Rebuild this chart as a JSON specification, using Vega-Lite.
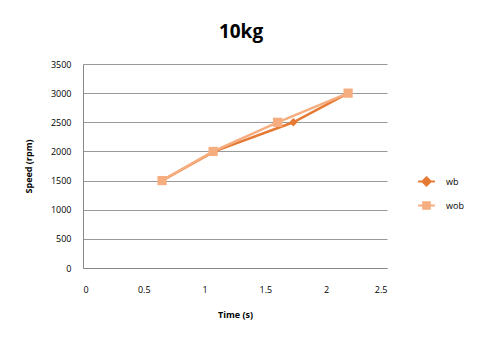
{
  "$schema": "https://vega.github.io/schema/vega-lite/v6.json",
  "autosize": "none",
  "width": 304,
  "height": 204,
  "padding": {"left": 83, "top": 64, "right": 92, "bottom": 69},
  "background": "white",
  "title": {"text": "10kg", "font": "Open Sans", "fontSize": 19, "fontWeight": "bold", "color": "#000000", "offset": 18, "anchor": "middle", "dx": 6},
  "data": {"values": [
    {"series": "wb", "time": 0.65, "speed": 1500},
    {"series": "wb", "time": 1.08, "speed": 2000},
    {"series": "wb", "time": 1.73, "speed": 2500},
    {"series": "wb", "time": 2.18, "speed": 3000},
    {"series": "wob", "time": 0.65, "speed": 1500},
    {"series": "wob", "time": 1.07, "speed": 2000},
    {"series": "wob", "time": 1.6, "speed": 2500},
    {"series": "wob", "time": 2.18, "speed": 3000}
  ]},
  "encoding": {
    "x": {"field": "time", "type": "quantitative", "title": "Time (s)",
      "scale": {"domain": [0, 2.5], "nice": false},
      "axis": {"values": [0, 0.5, 1, 1.5, 2, 2.5], "format": "~g", "grid": false, "ticks": false, "domain": true, "domainColor": "#888888", "labelPadding": 17, "titlePadding": 16, "labelFont": "Open Sans", "labelFontSize": 9, "labelColor": "#000", "titleFont": "Open Sans", "titleFontSize": 9, "titleFontWeight": "bold", "titleColor": "#000"}},
    "y": {"field": "speed", "type": "quantitative", "title": "Speed (rpm)",
      "scale": {"domain": [0, 3500], "nice": false},
      "axis": {"values": [0, 500, 1000, 1500, 2000, 2500, 3000, 3500], "format": "d", "grid": true, "gridColor": "#999999", "gridWidth": 1, "ticks": false, "domain": true, "domainColor": "#888888", "labelPadding": 12, "titlePadding": 17, "labelFont": "Open Sans", "labelFontSize": 9, "labelColor": "#000", "titleFont": "Open Sans", "titleFontSize": 9, "titleFontWeight": "bold", "titleColor": "#000"}},
    "color": {"field": "series", "type": "nominal",
      "scale": {"domain": ["wb", "wob"], "range": ["#E57A35", "#F6AE80"]},
      "legend": {"title": null, "orient": "none", "legendX": 339, "legendY": 113, "labelFont": "Open Sans", "labelFontSize": 9, "labelColor": "#000", "rowPadding": 8, "symbolSize": 36, "labelOffset": 15,
        "symbolType": "M-2.8,0L2.8,0M-1.1,-1.1L1.1,-1.1L1.1,1.1L-1.1,1.1Z",
        "symbolStrokeWidth": 2, "symbolOpacity": 1,
        "encode": {"symbols": {"update": {
           "shape": {"signal": "datum.value === 'wb' ? 'M-2.8,0L2.8,0M0,-1.4L1.4,0L0,1.4L-1.4,0Z' : 'M-2.8,0L2.8,0M-1.1,-1.1L1.1,-1.1L1.1,1.1L-1.1,1.1Z'"},
           "fill": {"signal": "datum.value === 'wb' ? '#E57A35' : '#F6AE80'"},
           "stroke": {"signal": "datum.value === 'wb' ? '#E57A35' : '#F6AE80'"},
           "strokeWidth": {"value": 2},
           "opacity": {"value": 1}
         }}}}}
  },
  "layer": [
    {"mark": {"type": "line", "strokeWidth": 2.5}, "encoding": {"order": {"field": "time"}}},
    {"transform": [{"filter": "datum.series === 'wb'"}],
     "mark": {"type": "point", "filled": true, "opacity": 1, "size": 70, "shape": "diamond"}},
    {"transform": [{"filter": "datum.series === 'wob'"}],
     "mark": {"type": "point", "filled": true, "opacity": 1, "size": 85, "shape": "square"}}
  ],
  "config": {"view": {"stroke": null}}
}
